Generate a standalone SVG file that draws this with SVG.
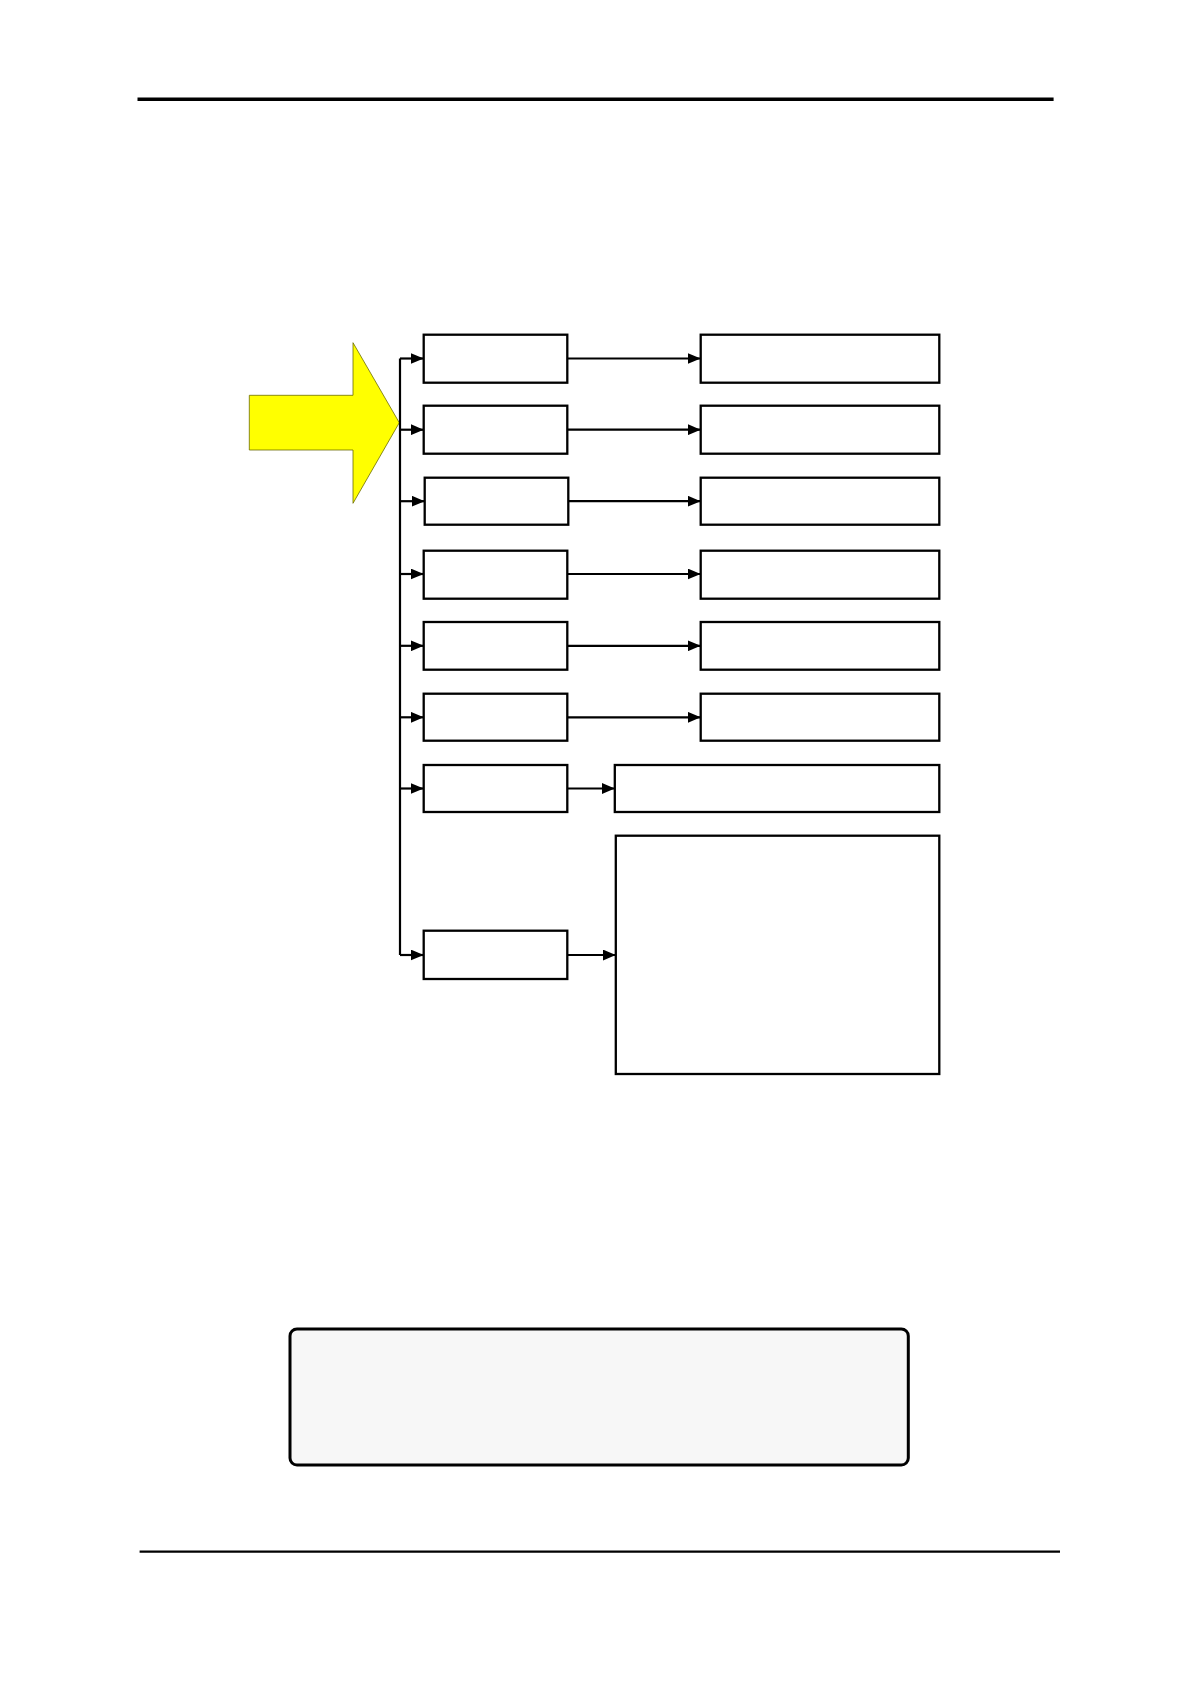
<svg xmlns="http://www.w3.org/2000/svg" width="1191" height="1684" viewBox="0 0 1191 1684">
<style>
.box{fill:#ffffff;stroke:#000000;stroke-width:2.3}
.ln{fill:none;stroke:#000000;stroke-width:2.2}
.rule{stroke:#000000}
</style>
<defs>
<marker id="ah" markerWidth="13" markerHeight="11" refX="13" refY="5.5" orient="auto" markerUnits="userSpaceOnUse">
<path d="M0,0 L13,5.5 L0,11 Z" fill="#000000"/>
</marker>
</defs>
<rect x="0" y="0" width="1191" height="1684" fill="#ffffff"/>
<line class="rule" x1="137.5" y1="99.3" x2="1053.6" y2="99.3" stroke-width="3.5"/>
<line class="rule" x1="139.6" y1="1551.7" x2="1060" y2="1551.7" stroke-width="2.3"/>
<g id="input-arrow">
<polygon points="249.3,395.3 353,395.3 353,342.7 399.3,422.7 353,503.3 353,450 249.3,450" fill="#ffff00" stroke="#6b6b00" stroke-width="0.8"/>
</g>
<g id="connectors">
<path class="ln" d="M400,358.5 L400,955"/>
<line class="ln" x1="400" y1="358.5" x2="423.7" y2="358.5" marker-end="url(#ah)"/>
<line class="ln" x1="400" y1="429.7" x2="423.7" y2="429.7" marker-end="url(#ah)"/>
<line class="ln" x1="400" y1="501.2" x2="424.7" y2="501.2" marker-end="url(#ah)"/>
<line class="ln" x1="400" y1="574" x2="423.7" y2="574" marker-end="url(#ah)"/>
<line class="ln" x1="400" y1="645.8" x2="423.7" y2="645.8" marker-end="url(#ah)"/>
<line class="ln" x1="400" y1="717.3" x2="423.7" y2="717.3" marker-end="url(#ah)"/>
<line class="ln" x1="400" y1="788.5" x2="423.7" y2="788.5" marker-end="url(#ah)"/>
<line class="ln" x1="400" y1="955" x2="423.7" y2="955" marker-end="url(#ah)"/>
<line class="ln" x1="567.3" y1="358.5" x2="700.7" y2="358.5" marker-end="url(#ah)"/>
<line class="ln" x1="567.3" y1="429.7" x2="700.7" y2="429.7" marker-end="url(#ah)"/>
<line class="ln" x1="568.3" y1="501.2" x2="700.7" y2="501.2" marker-end="url(#ah)"/>
<line class="ln" x1="567.3" y1="574" x2="700.7" y2="574" marker-end="url(#ah)"/>
<line class="ln" x1="567.3" y1="645.8" x2="700.7" y2="645.8" marker-end="url(#ah)"/>
<line class="ln" x1="567.3" y1="717.3" x2="700.7" y2="717.3" marker-end="url(#ah)"/>
<line class="ln" x1="567.3" y1="788.5" x2="614.8" y2="788.5" marker-end="url(#ah)"/>
<line class="ln" x1="567.3" y1="955" x2="615.8" y2="955" marker-end="url(#ah)"/>
</g>
<g id="l1"><rect class="box" x="423.7" y="334.7" width="143.6" height="48"/></g>
<g id="l2"><rect class="box" x="423.7" y="405.7" width="143.6" height="48"/></g>
<g id="l3"><rect class="box" x="424.7" y="477.7" width="143.6" height="47"/></g>
<g id="l4"><rect class="box" x="423.7" y="550.7" width="143.6" height="48"/></g>
<g id="l5"><rect class="box" x="423.7" y="622" width="143.6" height="47.7"/></g>
<g id="l6"><rect class="box" x="423.7" y="693.7" width="143.6" height="47"/></g>
<g id="l7"><rect class="box" x="423.7" y="765" width="143.6" height="47"/></g>
<g id="l8"><rect class="box" x="423.7" y="930.7" width="143.6" height="48.3"/></g>
<g id="r1"><rect class="box" x="700.7" y="334.7" width="238.6" height="48"/></g>
<g id="r2"><rect class="box" x="700.7" y="405.7" width="238.6" height="48"/></g>
<g id="r3"><rect class="box" x="700.7" y="477.7" width="238.6" height="47"/></g>
<g id="r4"><rect class="box" x="700.7" y="550.7" width="238.6" height="48"/></g>
<g id="r5"><rect class="box" x="700.7" y="622" width="238.6" height="47.7"/></g>
<g id="r6"><rect class="box" x="700.7" y="693.7" width="238.6" height="47"/></g>
<g id="r7"><rect class="box" x="614.8" y="765" width="324.5" height="47"/></g>
<g id="r8"><rect class="box" x="615.8" y="835.7" width="323.5" height="238.3"/></g>
<g id="note"><rect x="290" y="1329" width="618.3" height="136" rx="7" ry="7" fill="#f7f7f7" stroke="#000000" stroke-width="3"/></g>
</svg>
